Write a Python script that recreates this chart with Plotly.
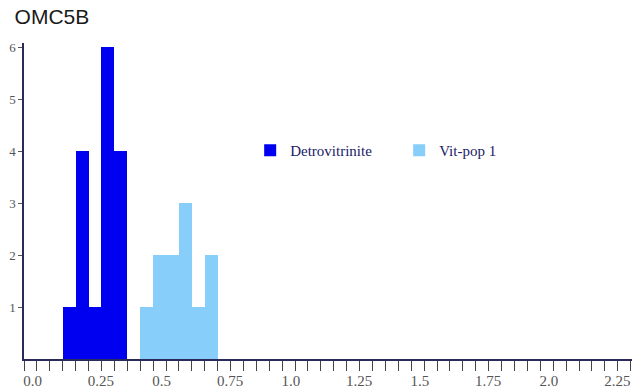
import plotly.graph_objects as go

# Data
bin_width = 0.05
detro_bin_starts = [0.15, 0.20, 0.25, 0.30, 0.35]
detro_counts = [1, 4, 1, 6, 4]
vit_bin_starts = [0.45, 0.50, 0.55, 0.60, 0.65, 0.70]
vit_counts = [1, 2, 2, 3, 1, 2]

x_tick_vals = [round(i * 0.05, 2) for i in range(48)]
x_major_labels = {0.0: "0.0", 0.25: "0.25", 0.5: "0.5", 0.75: "0.75", 1.0: "1.0",
                  1.25: "1.25", 1.5: "1.5", 1.75: "1.75", 2.0: "2.0", 2.25: "2.25"}
x_tick_text = [x_major_labels.get(v, "") for v in x_tick_vals]
y_tick_vals = [1, 2, 3, 4, 5, 6]

SERIF = "'Liberation Serif', 'Times New Roman', serif"

fig = go.Figure()
fig.add_trace(go.Bar(x=detro_bin_starts, y=detro_counts, width=bin_width, offset=0,
                     marker=dict(color="#0000F0", line=dict(width=0)), name="Detrovitrinite"))
fig.add_trace(go.Bar(x=vit_bin_starts, y=vit_counts, width=bin_width, offset=0,
                     marker=dict(color="#87CEFA", line=dict(width=0)), name="Vit-pop 1"))

fig.update_layout(
    width=634, height=389,
    margin=dict(l=24, r=2, t=43, b=30),
    paper_bgcolor="white", plot_bgcolor="white",
    bargap=0,
    title=dict(text="OMC5B", x=0.023, xanchor="left", y=0.958, yanchor="middle",
               font=dict(family="'Liberation Sans', Arial, sans-serif", size=21, color="#1a1a1a")),
    showlegend=True,
    legend=dict(orientation="h", x=0.372, xanchor="left", y=0.66, yanchor="middle",
                font=dict(family=SERIF, size=15, color="#1a1a66"),
                bgcolor="rgba(0,0,0,0)", entrywidth=104, entrywidthmode="pixels"),
    font=dict(family=SERIF, size=12, color="#444444"),
)
fig.update_xaxes(range=[0, 2.355], showgrid=False, zeroline=False, automargin=False,
                 showline=True, linecolor="#2a2a5a", linewidth=1.5,
                 tickmode="array", tickvals=x_tick_vals, ticktext=x_tick_text,
                 ticks="outside", ticklen=10, tickcolor="#444444", tickwidth=1,
                 ticklabelposition="outside right", ticklabelshift=-2, ticklabelstandoff=7,
                 tickfont=dict(family=SERIF, size=15, color="#555555"))
fig.update_yaxes(range=[0, 6.08], showgrid=False, zeroline=False, automargin=False,
                 showline=True, linecolor="#2a2a5a", linewidth=1.5,
                 tickmode="array", tickvals=y_tick_vals,
                 ticks="outside", ticklen=4, tickcolor="#555555",
                 tickfont=dict(family=SERIF, size=13, color="#555555"))

fig.write_html("out.html", config={"displayModeBar": False},
               post_script="document.body.style.margin='0';document.body.style.padding='0';")
